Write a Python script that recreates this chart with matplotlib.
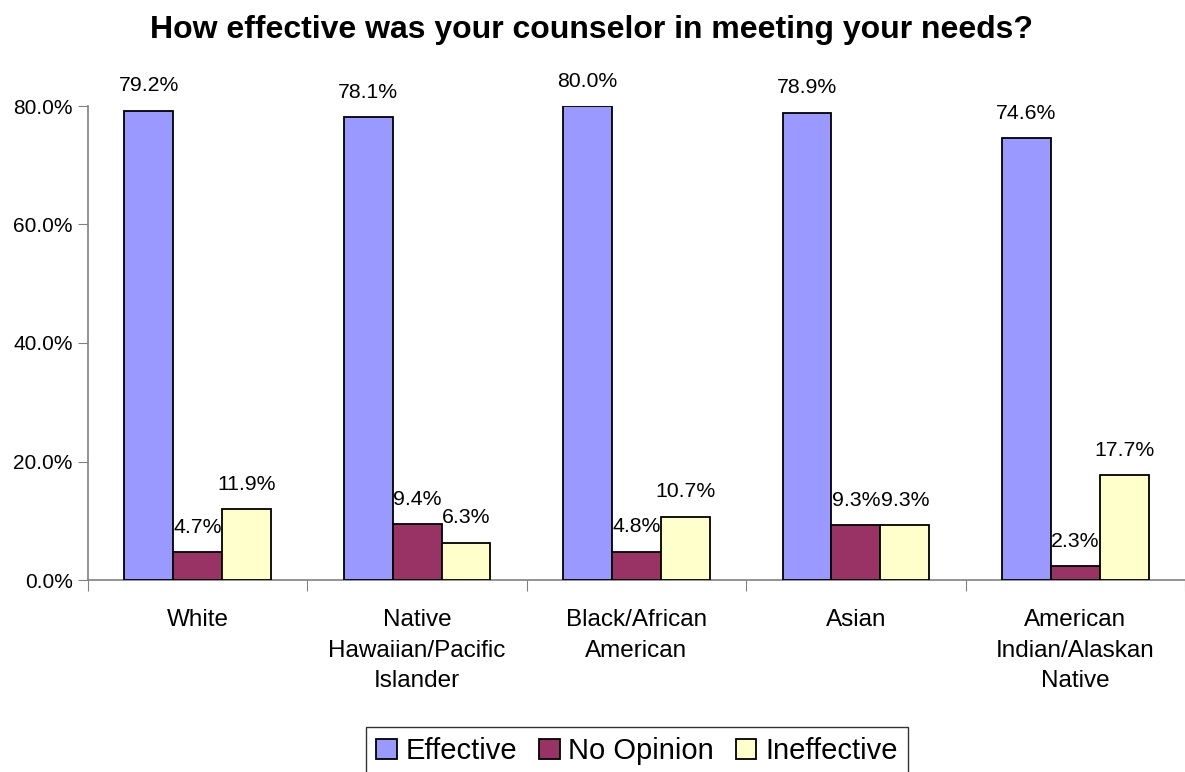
import matplotlib.pyplot as plt
import numpy as np

plt.rcParams['font.family'] = ['Liberation Sans', 'DejaVu Sans']

categories = ["White", "Native\nHawaiian/Pacific\nIslander", "Black/African\nAmerican",
              "Asian", "American\nIndian/Alaskan\nNative"]
series = ["Effective", "No Opinion", "Ineffective"]
effective = [79.2, 78.1, 80.0, 78.9, 74.6]
no_opinion = [4.7, 9.4, 4.8, 9.3, 2.3]
ineffective = [11.9, 6.3, 10.7, 9.3, 17.7]
colors = ["#9999FF", "#993366", "#FFFFCC"]

W, H = 1185, 772
fig = plt.figure(figsize=(W / 100, H / 100), dpi=100)
ax = fig.add_axes([88 / W, (H - 580) / H, (W - 88) / W, (580 - 106) / H])

x = np.arange(len(categories))
bw = 49 / 220
for i, (vals, c, name) in enumerate(zip([effective, no_opinion, ineffective], colors, series)):
    pos = x + (i - 1) * bw
    ax.bar(pos, vals, width=bw, color=c, edgecolor="black", linewidth=1.3,
           label=name, zorder=3)
    for xp, v in zip(pos, vals):
        ax.annotate(f"{v:.1f}%", (xp, v), xytext=(0, 11), textcoords="offset points",
                    ha="center", va="bottom", fontsize=15.3, annotation_clip=False)

ax.set_xlim(-0.5, -0.5 + (W - 88) / 220)
ax.set_ylim(0, 80)
ax.set_yticks([0, 20, 40, 60, 80])
ax.set_yticklabels([f"{v:.1f}%" for v in [0, 20, 40, 60, 80]], fontsize=15)
ax.set_xticks(np.arange(len(categories) + 1) - 0.5)
ax.set_xticklabels([])
ax.set_xticks(x, minor=True)
ax.set_xticklabels(categories, minor=True, fontsize=17.5, linespacing=1.5)
ax.tick_params(axis="x", which="minor", length=0, pad=21)
ax.tick_params(axis="x", which="major", length=8, color="#808080", direction="out")
ax.tick_params(axis="y", length=7, color="#808080", direction="out", pad=4)
for s in ["top", "right"]:
    ax.spines[s].set_visible(False)
for s in ["left", "bottom"]:
    ax.spines[s].set_color("#808080")
    ax.spines[s].set_linewidth(1.2)

fig.text(592 / W, 1 - 30 / H, "How effective was your counselor in meeting your needs?",
         ha="center", va="center", fontsize=23, fontweight="bold")

leg = fig.legend(loc="center", bbox_to_anchor=(637 / W, 1 - 751 / H), ncol=3,
                 fontsize=21, frameon=True, fancybox=False, edgecolor="black",
                 handlelength=0.7, handleheight=0.7, handletextpad=0.3,
                 columnspacing=0.75, borderpad=0.35)
leg.get_frame().set_linewidth(1.0)

fig.savefig("out.png", dpi=100)
